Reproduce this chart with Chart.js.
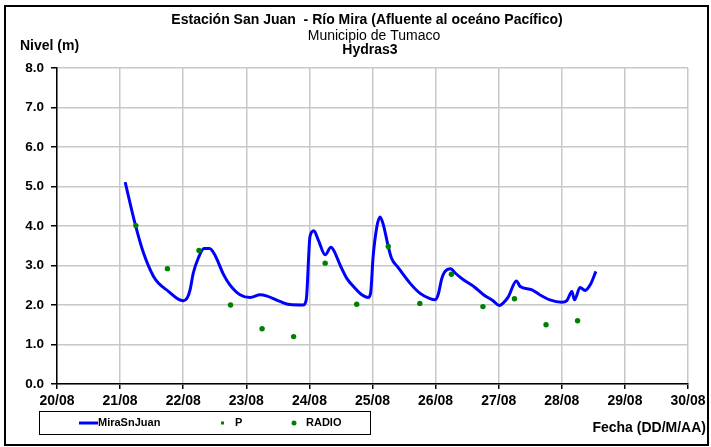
<!DOCTYPE html>
<html><head><meta charset="utf-8">
<script src="https://cdn.jsdelivr.net/npm/chart.js@4"></script>
<style>html,body{margin:0;padding:0;background:#fff}#wrap{width:711px;height:447px;position:relative}</style>
</head><body><div id="wrap"><canvas id="c" width="711" height="447"></canvas></div>
<script>
// Days since 20/08 00:00
const lineDays = [1.08,1.24,1.37,1.53,1.61,1.77,1.92,2.00,2.07,2.11,2.16,2.24,2.33,2.42,2.50,2.64,2.74,2.90,3.06,3.22,3.32,3.53,3.69,3.90,3.95,4.01,4.07,4.14,4.25,4.34,4.38,4.49,4.59,4.72,4.83,4.93,4.97,5.01,5.07,5.12,5.17,5.25,5.30,5.41,5.59,5.75,5.91,5.99,6.04,6.10,6.15,6.24,6.31,6.44,6.62,6.76,6.91,7.01,7.07,7.15,7.28,7.34,7.52,7.65,7.81,8.00,8.08,8.16,8.20,8.29,8.37,8.45,8.54];
const lineLevels = [5.11,4.04,3.32,2.72,2.55,2.34,2.15,2.11,2.20,2.39,2.81,3.19,3.43,3.43,3.27,2.77,2.51,2.26,2.19,2.26,2.23,2.09,2.01,2.00,2.13,3.74,3.88,3.65,3.27,3.46,3.40,3.00,2.68,2.43,2.26,2.19,2.30,3.23,3.99,4.23,4.04,3.48,3.19,2.94,2.56,2.30,2.16,2.13,2.26,2.68,2.85,2.92,2.81,2.64,2.45,2.26,2.11,1.99,2.05,2.20,2.61,2.47,2.39,2.26,2.13,2.07,2.11,2.34,2.13,2.44,2.37,2.51,2.85];
const radioDays = [1.25,1.75,2.25,2.75,3.25,3.75,4.25,4.75,5.25,5.75,6.25,6.75,7.25,7.75,8.25];
const radioLevels = [4.01,2.92,3.38,2.00,1.40,1.20,3.06,2.02,3.48,2.04,2.78,1.96,2.16,1.50,1.60];
const pDays = [];
const pLevels = [];
const xTickLabels = ['20/08','21/08','22/08','23/08','24/08','25/08','26/08','27/08','28/08','29/08','30/08'];
const titleLines = ['Estación San Juan  - Río Mira (Afluente al oceáno Pacífico)','Municipio de Tumaco','Hydras3'];
const yAxisTitle = 'Nivel (m)';
const xAxisTitle = 'Fecha (DD/M/AA)';

const toXY = (xs, ys) => xs.map((x, i) => ({x, y: ys[i]}));
const FONT = "'Liberation Sans', Arial, sans-serif";

const decor = {
  id: 'decor',
  afterDraw(chart) {
    const c = chart.ctx;
    c.save();
    // outer frame
    c.strokeStyle = '#000'; c.lineWidth = 2;
    c.strokeRect(5, 6, 703, 439);
    // titles
    c.fillStyle = '#000'; c.textAlign = 'center'; c.textBaseline = 'middle';
    c.font = 'bold 14px ' + FONT; c.fillText(titleLines[0], 367, 20);
    c.font = '14px ' + FONT; c.fillText(titleLines[1], 374, 36);
    c.font = 'bold 14px ' + FONT; c.fillText(titleLines[2], 370, 50);
    c.textAlign = 'left';
    c.font = 'bold 14px ' + FONT; c.fillText(yAxisTitle, 20, 46);
    c.textAlign = 'right';
    c.fillText(xAxisTitle, 706, 428);
    // legend box
    c.lineWidth = 1; c.strokeStyle = '#000';
    c.strokeRect(39.5, 411.5, 331, 23);
    const ly = 423;
    const ds = chart.data.datasets;
    c.font = 'bold 11px ' + FONT; c.textAlign = 'left';
    c.strokeStyle = ds[0].borderColor; c.lineWidth = 3;
    c.beginPath(); c.moveTo(79, ly); c.lineTo(98, ly); c.stroke();
    c.fillStyle = '#000'; c.fillText(ds[0].label, 98, ly);
    c.fillStyle = ds[1].backgroundColor; c.fillRect(221, ly - 1.5, 3, 3);
    c.fillStyle = '#000'; c.fillText(ds[1].label, 235, ly);
    c.fillStyle = ds[2].backgroundColor; c.beginPath(); c.arc(294, ly, 2.5, 0, Math.PI * 2); c.fill();
    c.fillStyle = '#000'; c.fillText(ds[2].label, 306, ly);
    c.restore();
  }
};

new Chart(document.getElementById('c'), {
  type: 'scatter',
  data: {datasets: [
    {label: 'MiraSnJuan', type: 'line', order: 3, data: toXY(lineDays, lineLevels), borderColor: '#0000ff', backgroundColor: '#0000ff', borderWidth: 3, pointRadius: 0, showLine: true, cubicInterpolationMode: 'monotone', fill: false},
    {label: 'P', order: 2, data: toXY(pDays, pLevels), pointStyle: 'rect', backgroundColor: '#008000', borderColor: '#008000', pointRadius: 1.5},
    {label: 'RADIO', order: 1, data: toXY(radioDays, radioLevels), pointStyle: 'circle', backgroundColor: '#008000', borderColor: '#008000', borderWidth: 0, pointRadius: 2.7}
  ]},
  options: {
    responsive: false, animation: false,
    layout: {padding: {left: 0, top: 68, right: 23, bottom: 0}},
    plugins: {legend: {display: false}, title: {display: false}, tooltip: {enabled: false}},
    scales: {
      x: {type: 'linear', min: 0, max: 10,
        ticks: {stepSize: 1, autoSkip: false, maxRotation: 0, padding: 4, color: '#000', font: {family: FONT, weight: 'bold', size: 14}, callback: v => xTickLabels[v]},
        grid: {color: '#c8c8c8', lineWidth: 1.5, tickColor: '#000', tickLength: 5},
        border: {color: '#000', width: 1.5},
        afterFit(s) { s.height = 63; }},
      y: {min: 0, max: 8,
        ticks: {stepSize: 1, padding: 7, color: '#000', font: {family: FONT, weight: 'bold', size: 13.5}, callback: v => v.toFixed(1)},
        grid: {color: '#c8c8c8', lineWidth: 1.5, tickColor: '#000', tickLength: 6},
        border: {color: '#000', width: 1.5},
        afterFit(s) { s.width = 57; }}
    }
  },
  plugins: [decor]
});
</script></body></html>
